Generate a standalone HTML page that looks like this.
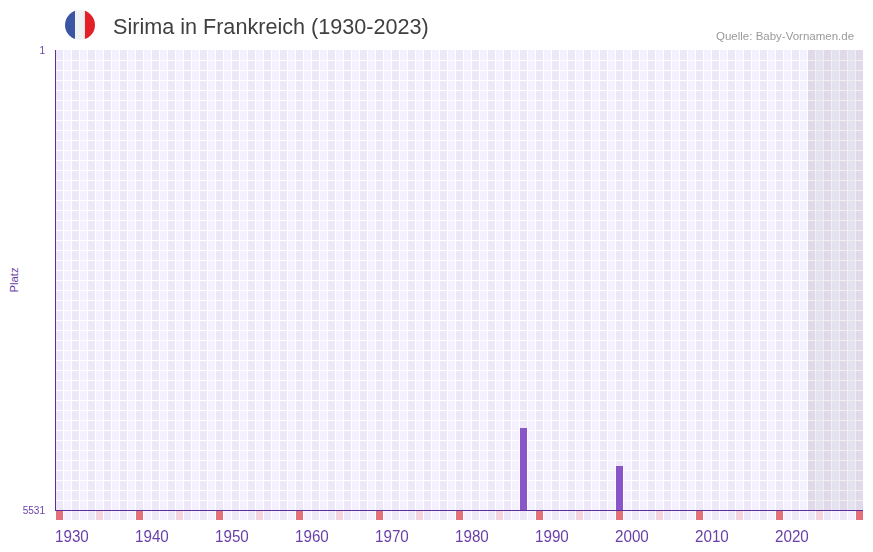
<!DOCTYPE html>
<html><head><meta charset="utf-8"><title>Sirima in Frankreich</title>
<style>
html,body{margin:0;padding:0;width:873px;height:552px;overflow:hidden;background:#fff;}
body{position:relative;font-family:"Liberation Sans",sans-serif;-webkit-font-smoothing:antialiased;}
#title,#src,.yl,.xl{will-change:transform;}
div{position:absolute;}
#flag{left:65px;top:10px;width:30px;height:30px;border-radius:50%;overflow:hidden;background:linear-gradient(to right,#3b55a5 0 10px,#f0f2f4 10px,#eff1f3 18px,#e0e3e5 20px,#e31f27 20px 30px);}
#title{left:113px;top:15.9px;font-size:21.6px;line-height:21.6px;color:#404040;white-space:nowrap;}
#src{left:715.6px;top:30.6px;font-size:11.5px;line-height:11.5px;color:#9a9a9a;white-space:nowrap;}
#grid{left:56px;top:51px;width:807px;height:459px;background:repeating-linear-gradient(to bottom,transparent 0 9px,#fff 9px 10px),repeating-linear-gradient(to right,#ede7fa 0 7px,#fff 7px 8px,#f3f1fd 8px 15px,#fff 15px 16px);}
#gridtop{left:56px;top:50px;width:807px;height:1px;background:repeating-linear-gradient(to right,#ede7fa 0 7px,#fff 7px 8px,#f3f1fd 8px 15px,#fff 15px 16px);}
#future{left:808px;top:50px;width:55px;height:460px;background:rgba(0,0,0,0.06);}
#yaxis{left:55px;top:50px;width:1px;height:461px;background:#5e2f9c;}
#xaxis{left:55px;top:510px;width:808px;height:1px;background:#5e2f9c;}
#brow{left:56px;top:511px;width:807px;height:9px;background:repeating-linear-gradient(to right,#ede7fa 0 7px,#fff 7px 8px,#f3f1fd 8px 15px,#fff 15px 16px);}
.bc{top:511px;width:7px;height:9px;}
.bar{background:#8a55c8;width:7px;}
.xl{top:527.7px;margin-left:-0.6px;font-size:15.2px;line-height:15.2px;transform:scaleY(1.05);transform-origin:0 0;color:#6a3fa8;white-space:nowrap;}
.yl{font-size:10px;line-height:10px;color:#6a3fa8;white-space:nowrap;text-align:right;width:40px;left:4.5px;}
#platz{left:14px;top:280px;font-size:11.3px;line-height:11px;color:#6a3fa8;white-space:nowrap;transform:translate(-50%,-50%) rotate(-90deg);}
</style></head><body>
<div id="flag"></div>
<div id="title">Sirima in Frankreich (1930-2023)</div>
<div id="src">Quelle: Baby-Vornamen.de</div>
<div id="gridtop"></div>
<div id="grid"></div>
<div id="future"></div>
<div id="brow"></div>
<div class="bc" style="left:56px;background:#e5707a"></div><div class="bc" style="left:96px;background:#f4d5dd"></div><div class="bc" style="left:136px;background:#e5707a"></div><div class="bc" style="left:176px;background:#f4d5dd"></div><div class="bc" style="left:216px;background:#e5707a"></div><div class="bc" style="left:256px;background:#f4d5dd"></div><div class="bc" style="left:296px;background:#e5707a"></div><div class="bc" style="left:336px;background:#f4d5dd"></div><div class="bc" style="left:376px;background:#e5707a"></div><div class="bc" style="left:416px;background:#f4d5dd"></div><div class="bc" style="left:456px;background:#e5707a"></div><div class="bc" style="left:496px;background:#f4d5dd"></div><div class="bc" style="left:536px;background:#e5707a"></div><div class="bc" style="left:576px;background:#f4d5dd"></div><div class="bc" style="left:616px;background:#e5707a"></div><div class="bc" style="left:656px;background:#f4d5dd"></div><div class="bc" style="left:696px;background:#e5707a"></div><div class="bc" style="left:736px;background:#f4d5dd"></div><div class="bc" style="left:776px;background:#e5707a"></div><div class="bc" style="left:816px;background:#f4d5dd"></div><div class="bc" style="left:856px;background:#e5707a"></div>
<div class="bar" style="left:520px;top:428px;height:82px"></div>
<div class="bar" style="left:616px;top:466px;height:44px"></div>
<div id="yaxis"></div>
<div id="xaxis"></div>
<div class="yl" style="top:45.5px">1</div>
<div class="yl" style="top:505.5px">5531</div>
<div id="platz">Platz</div>
<div class="xl" style="left:56px">1930</div><div class="xl" style="left:136px">1940</div><div class="xl" style="left:216px">1950</div><div class="xl" style="left:296px">1960</div><div class="xl" style="left:376px">1970</div><div class="xl" style="left:456px">1980</div><div class="xl" style="left:536px">1990</div><div class="xl" style="left:616px">2000</div><div class="xl" style="left:696px">2010</div><div class="xl" style="left:776px">2020</div>
</body></html>
